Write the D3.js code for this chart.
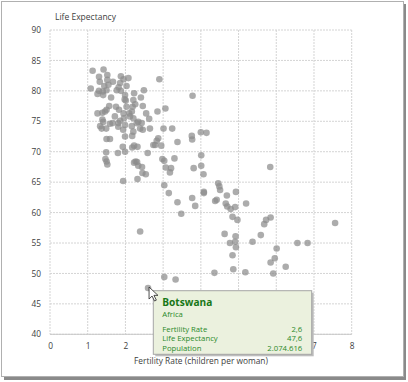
<!DOCTYPE html>
<html><head><meta charset="utf-8">
<script src="https://cdn.jsdelivr.net/npm/d3@7"></script>
<style>body{margin:0;background:#fff;} text{font-family:"Open Sans","Noto Sans",sans-serif;}</style>
</head><body>
<svg id="c" width="408" height="382"></svg>
<script>
const fertility = [1.13,1.42,1.30,1.52,1.88,1.52,1.67,1.32,1.95,2.08,1.86,2.90,1.55,1.08,1.30,1.44,1.82,2.03,2.49,1.26,1.40,1.50,1.77,1.88,2.23,3.78,1.41,1.99,1.62,1.98,2.01,2.21,2.41,2.26,2.46,2.19,1.57,1.75,2.03,1.83,1.50,3.06,1.26,1.39,1.46,2.10,1.95,2.17,2.55,2.85,1.72,1.96,2.12,2.21,1.39,1.86,2.63,1.59,1.41,1.81,2.34,2.43,1.33,1.49,1.66,1.81,1.99,2.17,2.30,2.65,3.01,3.24,1.37,1.94,2.21,2.39,2.46,2.18,1.99,3.76,3.77,4.00,4.15,1.50,1.59,2.87,2.83,3.38,2.23,2.32,1.93,2.18,2.74,2.79,2.95,1.49,1.80,1.99,2.59,4.01,1.47,1.50,2.98,3.03,2.27,2.31,2.23,3.30,1.52,2.34,2.44,3.07,3.21,4.01,3.81,5.84,2.45,2.54,3.18,4.07,1.94,2.32,4.46,4.49,4.51,3.03,3.15,4.08,4.08,4.69,4.93,3.77,3.38,4.38,4.42,4.66,5.20,3.85,4.70,4.79,4.91,3.48,4.84,4.97,5.85,5.73,5.68,7.56,2.39,4.63,4.92,5.59,4.91,4.77,5.37,6.56,6.83,4.93,6.01,4.84,5.96,5.85,6.25,4.86,4.36,5.18,5.92,3.03,3.33,2.60];
const lifeExpectancy = [83.3,83.5,82.3,82.6,82.4,81.8,81.5,81.5,81.9,82.1,81.3,81.9,81.0,80.4,80.0,80.8,80.6,80.8,80.1,79.5,79.9,80.1,80.1,80.0,79.6,79.2,79.3,79.3,78.9,78.6,78.4,78.5,78.9,77.8,77.5,77.4,77.5,77.4,77.4,76.9,76.9,77.1,76.3,76.4,76.6,76.3,76.3,76.6,76.3,76.6,75.8,75.5,75.8,75.5,75.3,75.1,75.4,74.6,74.9,74.7,74.9,74.7,74.2,73.8,74.7,74.1,74.4,74.2,74.7,73.8,73.8,73.8,73.8,73.6,73.3,73.8,73.6,72.6,72.5,72.6,72.0,73.2,73.1,72.1,72.1,72.2,71.8,71.6,71.0,70.8,70.8,70.7,71.1,71.1,71.0,69.9,69.8,70.0,69.8,69.4,68.8,68.4,68.8,68.5,68.4,68.3,68.2,68.9,67.9,67.7,67.5,67.4,67.3,67.7,67.3,67.5,66.5,66.3,66.6,66.3,65.2,65.5,64.8,64.3,63.7,64.5,63.2,63.4,63.2,62.8,63.4,62.4,61.7,61.9,62.1,61.5,61.5,61.1,61.0,60.6,60.9,59.8,59.3,58.8,59.2,58.8,58.1,58.3,56.9,56.5,56.1,56.3,55.2,55.0,55.2,55.0,55.0,54.3,54.1,53.0,52.5,51.8,51.1,50.7,50.1,50.2,50.0,49.4,49.0,47.6];
const xTicks = [0,1,2,3,4,5,6,7,8];
const yTicks = [40,45,50,55,60,65,70,75,80,85,90];
const xTitle = "Fertility Rate (children per woman)";
const yTitle = "Life Expectancy";
const tipName = "Botswana";
const tipRegion = "Africa";
const tipLabels = ["Fertility Rate","Life Expectancy","Population"];
const tipValues = ["2,6","47,6","2.074.616"];
const tipPoint = [2.60, 47.6];

const svg = d3.select("#c");
// scale a text's font size so that it spans the wanted width
function fitSize(str, weight, target){
  const t = svg.append("text").style("font-size","20px").style("font-weight",weight).text(str);
  const w = t.node().getComputedTextLength(); t.remove();
  return 20*target/w;
}

// frame with shadow
svg.append("rect").attr("x",4).attr("y",4).attr("width",402).attr("height",376).attr("fill","#8a8a8a");
svg.append("rect").attr("x",1.5).attr("y",1.5).attr("width",402).attr("height",375).attr("fill","#fff").attr("stroke","#b0b0b0");

const x = d3.scaleLinear().domain([0,8]).range([50,351.7]);
const y = d3.scaleLinear().domain([40,90]).range([334.3,30]);

// grid
const grid = svg.append("g");
grid.selectAll("line.v").data(xTicks).join("line")
  .attr("x1",d=>x(d)).attr("x2",d=>x(d)).attr("y1",y(90)).attr("y2",y(40))
  .attr("stroke","#d4d4d4").attr("stroke-dasharray","2,1");
grid.selectAll("line.h").data(yTicks).join("line")
  .attr("x1",x(0)).attr("x2",x(8)).attr("y1",d=>y(d)).attr("y2",d=>y(d))
  .attr("stroke","#d4d4d4").attr("stroke-dasharray","2,1");
svg.append("line").attr("x1",x(0)).attr("x2",x(8)).attr("y1",y(40)).attr("y2",y(40)).attr("stroke","#c8c8c8");

// axes
const tickFs = fitSize("90","normal",9.5);
const xa = svg.append("g").attr("transform",`translate(0,${y(40)})`)
  .call(d3.axisBottom(x).tickValues(xTicks).tickSize(0).tickPadding(9).tickFormat(d3.format("d")));
const ya = svg.append("g").attr("transform",`translate(${x(0)},0)`)
  .call(d3.axisLeft(y).tickValues(yTicks).tickSize(0).tickPadding(9).tickFormat(d3.format("d")));
[xa,ya].forEach(a=>{a.select(".domain").remove();a.selectAll("text").attr("fill","#404040").style("font-size",tickFs+"px").style("font-family",'"Open Sans",sans-serif');});

svg.append("text").attr("x",201).attr("y",364).attr("text-anchor","middle")
  .attr("fill","#404040").style("font-size",fitSize(xTitle,"normal",134)+"px").text(xTitle);
svg.append("text").attr("x",55).attr("y",20)
  .attr("fill","#404040").style("font-size",fitSize(yTitle,"normal",61)+"px").text(yTitle);

// points
svg.append("g").selectAll("circle").data(fertility).join("circle")
  .attr("cx",(d)=>x(d)).attr("cy",(d,i)=>y(lifeExpectancy[i])).attr("r",3.3)
  .attr("fill","#8c8c8c").attr("fill-opacity",0.72);

// tooltip
const tx = 153.3, ty = 290.7, tw = 158.4, th = 63.6;
svg.append("rect").attr("x",tx+2).attr("y",ty+2).attr("width",tw).attr("height",th).attr("fill","#bdbdbd");
svg.append("rect").attr("x",tx).attr("y",ty).attr("width",tw).attr("height",th)
  .attr("fill","#ebf1de").attr("stroke","#a6a6a6");
const tip = svg.append("g").attr("fill","#2a8a2a");
const smallFs = fitSize(tipLabels[0],"normal",45);
tip.append("text").attr("x",tx+9).attr("y",305.7).attr("fill","#177717")
  .style("font-size",fitSize(tipName,"bold",50)+"px").style("font-weight","bold").text(tipName);
tip.append("text").attr("x",tx+9).attr("y",317.3).style("font-size",smallFs+"px").text(tipRegion);
tipLabels.forEach((l,i)=>{
  tip.append("text").attr("x",tx+9).attr("y",331.7+i*9.7).style("font-size",smallFs+"px").text(l);
  tip.append("text").attr("x",302.3).attr("y",331.7+i*9.7).attr("text-anchor","end").style("font-size",smallFs+"px").text(tipValues[i]);
});

// cursor arrow
const cx0 = x(tipPoint[0])+1, cy0 = y(tipPoint[1])-1;
svg.append("path")
  .attr("d",`M${cx0},${cy0} l0,12 l3,-3 l2.5,5 l1.8,-0.9 l-2.4,-4.8 l4,0 z`)
  .attr("fill","#fff").attr("stroke","#222").attr("stroke-width",0.8).attr("stroke-linejoin","round");
</script>
</body></html>
